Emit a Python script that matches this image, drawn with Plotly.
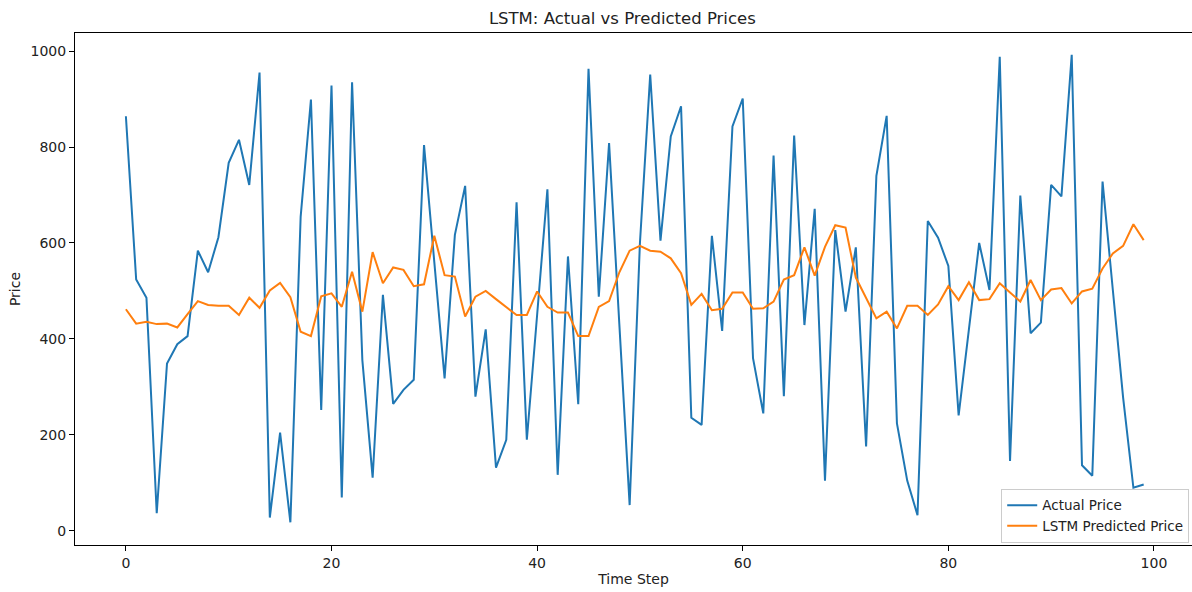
import plotly.graph_objects as go

time_step = list(range(100))

actual_price = [
    864, 524, 486, 37, 349, 389, 406, 584, 539, 612,
    767, 815, 721, 955, 28, 205, 18, 655, 899, 252,
    928, 70, 935, 356, 111, 492, 265, 294, 315, 804,
    560, 318, 617, 719, 280, 420, 132, 190, 685, 190,
    450, 712, 117, 572, 264, 963, 488, 808, 430, 54,
    600, 951, 605, 822, 885, 236, 221, 615, 417, 843,
    901, 360, 245, 782, 281, 824, 429, 671, 105, 627,
    457, 591, 176, 740, 865, 224, 105, 33, 646, 611,
    552, 241, 420, 600, 502, 988, 146, 699, 412, 434,
    721, 697, 992, 137, 115, 728, 502, 278, 90, 97,
]

predicted_price = [
    462, 432, 436, 431, 432, 424, 452, 479, 471, 469,
    469, 450, 486, 465, 501, 517, 487, 415, 406, 489,
    495, 467, 540, 457, 581, 516, 549, 544, 510, 514,
    615, 533, 530, 447, 488, 500, 483, 467, 450, 450,
    499, 467, 455, 455, 406, 406, 467, 479, 539, 584,
    594, 584, 582, 568, 537, 471, 494, 460, 463, 497,
    497, 463, 464, 478, 524, 533, 591, 532, 592, 637,
    632, 528, 485, 443, 457, 422, 469, 469, 450, 472,
    510, 481, 518, 481, 483, 516, 497, 478, 523, 481,
    503, 506, 474, 499, 505, 547, 578, 594, 639, 606,
]

x_ticks = [0, 20, 40, 60, 80, 100]
y_ticks = [0, 200, 400, 600, 800, 1000]

font_family = "DejaVu Sans, Liberation Sans, sans-serif"

fig = go.Figure()
fig.add_trace(go.Scatter(
    x=time_step, y=actual_price, mode="lines", name="Actual Price",
    line=dict(color="#1f77b4", width=2),
))
fig.add_trace(go.Scatter(
    x=time_step, y=predicted_price, mode="lines", name="LSTM Predicted Price",
    line=dict(color="#ff7f0e", width=2),
))

axis_common = dict(
    showgrid=False, zeroline=False, showline=True, linecolor="black",
    linewidth=1, mirror=True, ticks="outside", ticklen=5, tickwidth=1,
    tickcolor="black", tickfont=dict(family=font_family, size=14, color="#222"),
)

fig.update_layout(
    width=1192, height=592,
    paper_bgcolor="white", plot_bgcolor="white",
    margin=dict(l=75, r=0, t=33, b=47),
    font=dict(family=font_family, color="#222"),
    title=dict(text="LSTM: Actual vs Predicted Prices", x=0.49, xref="paper",
               y=1 - 18 / 592, yanchor="middle",
               font=dict(family=font_family, size=16.5, color="#222")),
    xaxis=dict(range=[-4.95, 103.7], tickvals=x_ticks,
               title=dict(text="Time Step", standoff=4,
                          font=dict(family=font_family, size=14, color="#222")),
               **axis_common),
    yaxis=dict(range=[-29.2, 1037.5], tickvals=y_ticks,
               title=dict(text="Price", standoff=6,
                          font=dict(family=font_family, size=14, color="#222")),
               **axis_common),
    legend=dict(x=0.9975, y=0.004, xanchor="right", yanchor="bottom",
                bgcolor="rgba(255,255,255,0.85)", bordercolor="#cccccc",
                borderwidth=1, font=dict(family=font_family, size=13.5, color="#222"),
                itemwidth=30, tracegroupgap=0),
    showlegend=True,
)

fig.write_html("out.html")
